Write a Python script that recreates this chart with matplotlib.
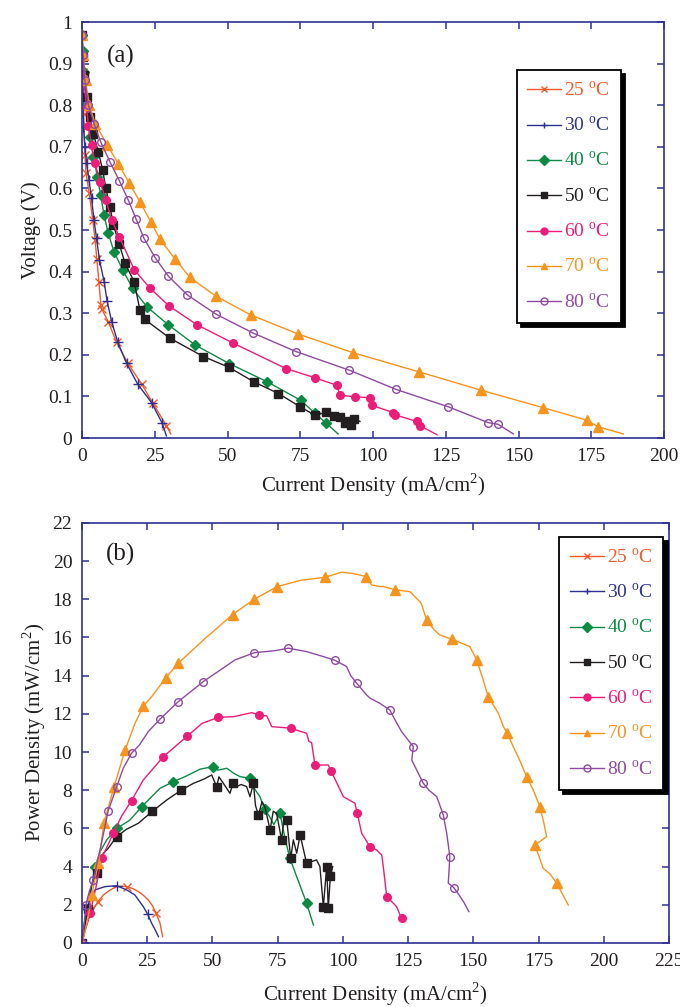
import matplotlib
import matplotlib.pyplot as plt

matplotlib.use('Agg')

plt.rcParams['font.family'] = ['Liberation Serif', 'DejaVu Serif']
plt.rcParams['mathtext.fontset'] = 'custom'
plt.rcParams['mathtext.rm'] = 'Liberation Serif'

# temperatures and styles
labels = ['25 $^{\\rm o}$C', '30 $^{\\rm o}$C', '40 $^{\\rm o}$C', '50 $^{\\rm o}$C',
          '60 $^{\\rm o}$C', '70 $^{\\rm o}$C', '80 $^{\\rm o}$C']
colors = ['#F15A29', '#2E3192', '#0B8A43', '#231F20', '#EC1C79', '#F7941E', '#8E4BA0']

# (a) polarization curves: current density (mA/cm2) vs voltage (V)
j25 = [0, 0.3, 0.6, 1.0, 1.4, 2.5, 3.7, 4.5, 5.1, 5.8, 6.5, 6.8, 9.0, 11.9, 15.7, 20.5, 24.3, 29.0, 30.5]
v25 = [0.97, 0.88, 0.78, 0.68, 0.636, 0.588, 0.524, 0.476, 0.43, 0.375, 0.32, 0.31, 0.28, 0.23, 0.18, 0.13, 0.084, 0.03, 0.01]
j30 = [0, 0.2, 0.5, 1.0, 1.6, 2.4, 3.3, 4.1, 5.0, 6.0, 7.6, 8.6, 10.2, 12.3, 15.3, 19.1, 23.9, 27.6, 29.0]
v30 = [0.97, 0.88, 0.748, 0.70, 0.66, 0.62, 0.576, 0.524, 0.48, 0.428, 0.376, 0.33, 0.28, 0.23, 0.18, 0.13, 0.085, 0.035, 0.005]
j40 = [0, 0.3, 0.8, 1.6, 2.7, 3.9, 5.3, 6.4, 7.6, 9.0, 11.0, 14.0, 17.4, 22.2, 29.7, 38.8, 50.6, 63.7, 75.1, 80, 84, 88]
v40 = [0.97, 0.93, 0.88, 0.80, 0.724, 0.676, 0.628, 0.584, 0.536, 0.492, 0.448, 0.404, 0.36, 0.316, 0.272, 0.224, 0.179, 0.135, 0.091, 0.06, 0.035, 0.01]
j50 = [0, 0.2, 0.7, 1.6, 2.7, 3.9, 5.6, 7.1, 8.2, 9.6, 10.8, 12.8, 14.8, 17.9, 19.9, 21.6, 30.2, 41.7, 50.5, 59.1, 67.5, 75,
       80, 84, 86.5, 88.7, 90.3, 91.5, 92.5, 93.5, 95.5]
v50 = [0.97, 0.917, 0.873, 0.82, 0.772, 0.732, 0.688, 0.644, 0.60, 0.556, 0.512, 0.466, 0.42, 0.376, 0.308, 0.285, 0.24,
       0.196, 0.17, 0.135, 0.107, 0.075, 0.055, 0.062, 0.052, 0.05, 0.035, 0.042, 0.032, 0.045, 0.04]
j60 = [0, 0.2, 0.6, 1.6, 2.2, 3.3, 4.5, 6.2, 8.2, 10.2, 12.8, 18.0, 23.4, 30.0, 39.6, 52.0, 70.1, 80, 87.5, 88.7, 93.8,
       99.0, 99.5, 107, 107.5, 115, 116, 122]
v60 = [0.97, 0.917, 0.86, 0.795, 0.75, 0.704, 0.66, 0.616, 0.572, 0.524, 0.484, 0.404, 0.36, 0.317, 0.272, 0.228, 0.167,
       0.145, 0.127, 0.103, 0.099, 0.097, 0.079, 0.061, 0.056, 0.04, 0.03, 0.008]
j70 = [0, 0.5, 1.2, 2.5, 4.5, 8.7, 12.5, 16.3, 19.9, 23.6, 26.8, 32.0, 37.1, 46.0, 58.0, 74.3, 93.2, 115.9, 137.1, 158.5,
       173.4, 177.4, 186]
v70 = [0.97, 0.92, 0.86, 0.80, 0.756, 0.704, 0.659, 0.612, 0.568, 0.52, 0.478, 0.43, 0.386, 0.341, 0.296, 0.25, 0.205,
       0.159, 0.115, 0.073, 0.043, 0.027, 0.01]
j80 = [0, 0.4, 1.0, 2.2, 4.1, 6.4, 9.6, 12.8, 15.9, 18.6, 21.3, 25.1, 29.7, 36.2, 46.0, 58.6, 73.5, 91.9, 107.9, 125.9,
       139.6, 143.0, 148.2]
v80 = [0.97, 0.92, 0.86, 0.80, 0.756, 0.712, 0.664, 0.619, 0.572, 0.526, 0.48, 0.434, 0.389, 0.344, 0.298, 0.253, 0.208,
       0.163, 0.117, 0.075, 0.037, 0.033, 0.01]

# (b) power density curves: current density (mA/cm2) vs power density (mW/cm2)
pj25 = [0, 0.5, 1.1, 2.5, 4.3, 6.0, 8.2, 10.5, 13.3, 15.5, 17.1, 19.5, 21.6, 23.5, 25.4, 27.0, 28.4, 29.9, 30.9]
p25 = [0, 0.3, 0.68, 1.25, 1.73, 2.15, 2.51, 2.75, 2.95, 2.97, 2.95, 2.85, 2.69, 2.5, 2.25, 1.95, 1.55, 1.03, 0.33]
pj30 = [0, 0.5, 1.2, 2.4, 3.5, 5.0, 8.8, 13.3, 17.1, 20.3, 23.5, 25.2, 26.7, 28.0, 29.3]
p30 = [0, 0.7, 1.3, 1.9, 2.45, 2.78, 2.95, 3.0, 2.78, 2.51, 1.9, 1.5, 1.03, 0.7, 0.33]
pj40 = [0, 0.6, 1.2, 2.2, 3.5, 5.0, 7.0, 9.5, 13.3, 18.4, 22.9, 29.9, 35, 39.5, 45.2, 50.3, 52, 55.5, 58, 60.6, 64.4, 66,
        68.2, 70, 71.9, 73.5, 75.9, 77.8, 79.7, 82.3, 86.1, 88.7]
p40 = [0, 0.5, 1.0, 1.8, 2.8, 4.0, 4.8, 5.4, 6.0, 6.44, 7.14, 8.1, 8.45, 8.71, 9.1, 9.24, 9.05, 9.15, 8.9, 8.71, 8.63, 8.1,
       7.66, 7.0, 6.62, 6.2, 6.79, 5.48, 4.43, 3.47, 2.08, 0.94]
pj50 = [0, 0.6, 1.2, 2.2, 3.7, 5.6, 8.2, 10, 13.3, 17, 21.6, 27, 32.5, 38, 42.7, 47, 49.7, 51.6, 52.5, 54.2, 56.7, 58,
        59.3, 61, 63.1, 64.4, 65.7, 66.5, 67.6, 69, 70.1, 72.1, 73.3, 74.6, 76.5, 77.5, 78.5, 80, 81, 82.3, 83.6, 86.1,
        89.9, 91.2, 92.5, 93.8, 94.4, 95.2, 96.1]
p50 = [0, 0.5, 1.0, 1.8, 3.04, 3.65, 4.7, 4.95, 5.57, 5.95, 6.27, 6.9, 7.49, 8.0, 8.36, 8.6, 8.8, 8.19, 8.7, 8.36, 7.84,
       8.4, 8.19, 8.3, 8.19, 7.66, 8.36, 7.2, 6.7, 7.4, 7.14, 5.92, 6.9, 6.79, 5.4, 6.6, 6.44, 4.43, 5.4, 4.7, 5.66, 4.17,
       4.35, 4.0, 1.9, 4.0, 1.82, 3.5, 4.0]
pj60 = [0, 0.5, 1.1, 2.0, 3.1, 5.4, 7.5, 12, 15.2, 19, 23.5, 31.2, 40.4, 46, 52.3, 58, 63, 65, 68, 70.8, 71.5, 72.7, 80,
        86.1, 87, 88, 89.3, 94.4, 95.5, 100.2, 104.6, 105.5, 107.2, 110.4, 112.9, 114.9, 115.5, 116.8, 120.6, 121.5, 122.5]
p60 = [0, 0.3, 0.6, 1.0, 1.55, 2.95, 4.43, 5.74, 6.65, 7.46, 8.54, 9.76, 10.84, 11.5, 11.82, 11.85, 12.0, 12.06, 11.95,
       11.89, 11.7, 11.33, 11.25, 10.98, 10.55, 10.5, 9.32, 9.32, 9.0, 7.66, 7.32, 6.8, 5.74, 5.04, 4.87, 4.6, 3.98, 2.43,
       1.9, 1.6, 1.29]
pj70 = [0, 0.8, 1.5, 2.4, 3.7, 6.3, 8.4, 12.3, 16.5, 20.3, 23.5, 26.7, 32.2, 36.9, 46.3, 57.7, 66, 74.9, 84, 93.1, 99.5,
        104, 109, 111, 114.2, 115.5, 120, 125.7, 130, 132.1, 135, 137.2, 142, 148.7, 151.3, 153.5, 155.7, 159.6, 161.5,
        163, 165.3, 168, 170.4, 173, 175.5, 177, 178.1, 173.6, 176.8, 179.5, 181.9, 184, 186.4]
p70 = [0, 0.4, 0.8, 1.38, 2.51, 4.17, 6.27, 8.19, 10.1, 11.5, 12.4, 12.9, 13.9, 14.65, 15.84, 17.2, 18.0, 18.67, 19.0,
       19.15, 19.42, 19.35, 19.19, 18.75, 18.67, 18.67, 18.5, 18.4, 17.8, 16.92, 16.4, 16.13, 15.9, 15.52, 14.82, 13.9,
       12.9, 12.03, 11.34, 11.0, 10.28, 9.5, 8.71, 8.0, 7.14, 6.3, 5.57, 5.13, 3.91, 3.6, 3.13, 2.6, 1.99]
pj80 = [0, 0.5, 1.5, 2.8, 4.3, 7.2, 10, 13.3, 15.8, 19, 22, 25.4, 29.9, 36.9, 46.5, 58.6, 66, 74, 79.1, 86.1, 92.5, 97,
        101.4, 103, 105.3, 109.1, 110.4, 114.2, 118, 120, 122.5, 127, 126.4, 130.8, 133, 136, 138.5, 139.8, 141, 140.4,
        142.5, 144.9, 146.5, 148.3]
p80 = [0, 0.5, 2.0, 2.7, 3.3, 5.05, 6.9, 8.19, 9.15, 9.94, 10.37, 11.07, 11.72, 12.64, 13.69, 14.82, 15.2, 15.31, 15.44,
       15.26, 15.0, 14.8, 14.48, 14.0, 13.6, 12.99, 12.82, 12.55, 12.2, 11.68, 11.07, 10.28, 9.58, 8.37, 8.0, 7.66, 6.7,
       5.74, 4.52, 3.13, 2.9, 2.44, 2.1, 1.64]

top_x = [j25, j30, j40, j50, j60, j70, j80]
top_y = [v25, v30, v40, v50, v60, v70, v80]
bot_x = [pj25, pj30, pj40, pj50, pj60, pj70, pj80]
bot_y = [p25, p30, p40, p50, p60, p70, p80]

markers = ['x', '+', 'D', 's', 'o', '^', 'o']
msizes = [5.5, 7, 5, 5.5, 5.5, 6.5, 5.5]
axcol = '#2E3192'
txtcol = '#231F20'

fig = plt.figure(figsize=(6.8, 10.07), dpi=100)
ax1 = fig.add_axes([0.1206, 0.565, 0.8559, 0.4131])
ax2 = fig.add_axes([0.1206, 0.0636, 0.8632, 0.4171])


def style_axis(ax):
	for sp in ax.spines.values():
		sp.set_color(axcol)
		sp.set_linewidth(1.2)
	ax.tick_params(direction='in', length=5, width=1.1, color=axcol, labelcolor=txtcol,
		labelsize=14, top=True, right=True, pad=7)


def make_legend(ax, anchor):
	leg = ax.legend(loc='upper left', bbox_to_anchor=anchor, fontsize=14, handlelength=1.75,
		labelspacing=0.82, borderpad=0.55, handletextpad=0.15, borderaxespad=0, fancybox=False,
		shadow={'color': 'black', 'alpha': 1.0, 'ox': 3, 'oy': -3}, framealpha=1, edgecolor='black')
	leg.get_frame().set_linewidth(1.3)
	for t, c in zip(leg.get_texts(), colors):
		t.set_color(c)
	for h in leg.legend_handles:
		h.set_markersize(5)
	return leg


# panel (a)
for i in range(7):
	mfc = 'none' if i == 6 else colors[i]
	ax1.plot(top_x[i], top_y[i], color=colors[i], lw=1.0, marker=markers[i], ms=msizes[i],
		mfc=mfc, mec=colors[i], mew=1.0, markevery=list(range(len(top_x[i]) - 1)), label=labels[i])
ax1.set_xlim(0, 200)
ax1.set_ylim(0, 1)
ax1.set_xticks(range(0, 201, 25))
ax1.set_yticks([i / 10 for i in range(11)])
ax1.set_yticklabels(['0', '0.1', '0.2', '0.3', '0.4', '0.5', '0.6', '0.7', '0.8', '0.9', '1'])
style_axis(ax1)
ax1.set_xlabel('Current Density (mA/cm$^2$)', fontsize=15, color=txtcol, labelpad=5)
ax1.set_ylabel('Voltage (V)', fontsize=15, color=txtcol, labelpad=5)
ax1.text(0.043, 0.918, '(a)', transform=ax1.transAxes, fontsize=18, va='center', color=txtcol)
make_legend(ax1, (0.747, 0.885))

# panel (b)
for i in range(7):
	mfc = 'none' if i == 6 else colors[i]
	ax2.plot(bot_x[i], bot_y[i], color=colors[i], lw=1.0, marker=markers[i], ms=msizes[i],
		mfc=mfc, mec=colors[i], mew=1.0, markevery=0.055, label=labels[i])
ax2.set_xlim(0, 225)
ax2.set_ylim(0, 22)
ax2.set_xticks(range(0, 226, 25))
ax2.set_yticks(range(0, 23, 2))
style_axis(ax2)
ax2.set_xlabel('Current Density (mA/cm$^2$)', fontsize=15, color=txtcol, labelpad=8)
ax2.set_ylabel('Power Density (mW/cm$^2$)', fontsize=15, color=txtcol, labelpad=3)
ax2.text(0.041, 0.926, '(b)', transform=ax2.transAxes, fontsize=18, va='center', color=txtcol)
make_legend(ax2, (0.813, 0.967))

fig.savefig('out.png', dpi=100)
